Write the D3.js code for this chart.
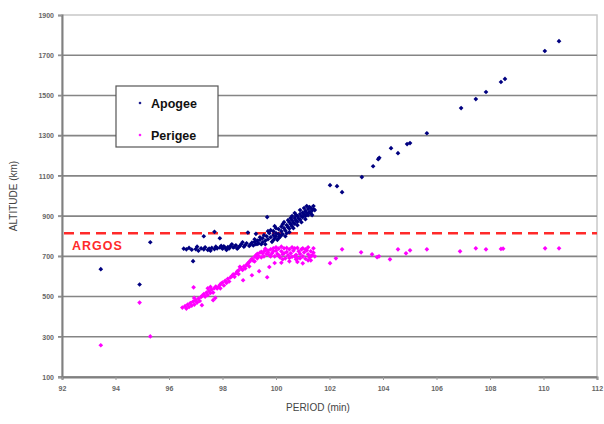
<!DOCTYPE html>
<html>
<head>
<meta charset="utf-8">
<script src="https://cdn.jsdelivr.net/npm/d3@7"></script>
<style>
  body { margin: 0; background: #fff; }
  svg text { font-family: Arial, "Liberation Sans", sans-serif; }
</style>
</head>
<body>
<svg id="chart" width="604" height="424"></svg>
<script>
const svg = d3.select("svg#chart");

// tick values
const xTicks = [92, 94, 96, 98, 100, 102, 104, 106, 108, 110, 112];
const yTicks = [100, 300, 500, 700, 900, 1100, 1300, 1500, 1700, 1900];
const argosAltitude = 815;

// [period (min), altitude (km)]
const apogee = [
  [93.45, 636], [94.9, 560], [95.3, 770], [96.9, 676], [97.3, 800], [97.7, 822], [97.9, 790],
  [96.55, 738], [96.65, 735], [96.75, 742], [96.85, 733], [97.0, 736], [97.1, 728], [97.2, 740],
  [97.3, 735], [97.35, 745], [97.45, 732], [97.5, 738], [97.6, 742], [97.7, 736], [97.75, 748],
  [97.8, 740], [97.9, 744], [98.0, 738], [98.05, 750], [98.1, 742], [98.2, 746], [98.25, 739],
  [98.3, 752], [98.4, 744], [98.45, 748], [98.5, 755], [98.6, 745], [98.65, 752], [98.7, 760],
  [98.8, 748], [98.85, 756], [98.9, 765], [99.0, 752], [99.05, 760], [99.1, 768], [99.15, 754],
  [99.2, 772], [99.25, 760], [99.3, 778], [99.35, 764], [99.4, 782], [99.45, 760], [98.95, 818],
  [99.25, 812], [99.7, 825], [99.67, 895],
  [97.05, 748], [97.55, 728], [98.15, 732], [98.55, 738], [98.75, 770], [98.35, 760], [97.95, 752],
  [99.2, 785], [99.4, 795], [99.3, 762],
  [99.5, 790], [99.5, 770], [99.55, 805], [99.6, 778], [99.65, 800], [99.7, 785], [99.75, 815],
  [99.8, 795], [99.85, 772], [99.9, 825], [99.9, 805], [99.95, 790], [100.0, 815], [100.0, 800],
  [100.05, 782], [100.1, 835], [100.1, 810], [100.15, 798], [100.2, 848], [100.2, 825],
  [100.25, 810], [100.3, 840], [100.35, 828], [100.4, 855], [100.4, 815], [100.45, 845],
  [100.5, 870], [100.5, 838], [100.55, 860], [100.6, 880], [100.6, 850], [100.65, 868],
  [100.7, 890], [100.7, 862], [100.75, 878], [100.8, 900], [100.8, 872], [100.85, 888],
  [100.9, 910], [100.9, 882], [100.95, 898], [101.0, 918], [101.0, 895], [101.05, 908],
  [101.1, 925], [101.1, 900], [101.15, 915], [101.2, 935], [101.25, 920], [101.3, 940],
  [101.35, 928], [101.4, 935], [101.45, 930],
  [99.6, 760], [99.8, 830], [99.9, 780], [100.0, 840], [100.1, 790], [100.2, 805], [100.3, 870],
  [100.35, 800], [100.45, 880], [100.5, 820], [100.6, 900], [100.65, 840], [100.75, 905],
  [100.8, 855], [100.9, 930], [100.95, 870], [101.05, 940], [101.1, 885], [101.2, 905],
  [101.25, 945], [101.3, 915], [101.4, 950], [101.35, 905], [101.15, 950], [100.7, 915],
  [100.55, 890], [100.25, 860], [99.95, 850],
  [102.02, 1054], [102.28, 1049], [102.47, 1019], [103.21, 1094], [103.63, 1148], [103.82, 1183],
  [103.86, 1190], [104.3, 1238], [104.56, 1213], [104.9, 1258], [105.01, 1263], [105.64, 1312],
  [106.92, 1437], [107.47, 1482], [107.85, 1517], [108.41, 1567], [108.56, 1582], [110.05, 1721],
  [110.58, 1770]
];

const perigee = [
  [93.45, 258], [94.9, 470], [95.3, 302],
  [96.5, 445], [96.6, 452], [96.65, 440], [96.7, 460], [96.8, 468], [96.85, 455], [96.9, 475],
  [96.92, 546], [96.94, 493], [97.0, 482], [97.05, 470], [97.1, 490], [97.2, 498], [97.23, 457],
  [97.25, 505], [97.3, 512], [97.35, 500], [97.4, 520], [97.45, 541], [97.5, 528], [97.55, 518],
  [97.55, 548], [97.6, 535], [97.65, 482], [97.7, 542], [97.73, 493], [97.75, 550], [97.8, 540],
  [97.9, 558], [97.92, 541], [97.95, 565], [98.0, 570], [98.1, 578], [98.15, 568], [98.2, 588],
  [98.3, 595], [98.35, 602], [98.4, 610], [98.5, 615], [98.55, 625], [98.6, 630], [98.65, 648],
  [98.7, 640], [98.75, 632], [98.77, 581], [98.8, 650], [98.9, 658], [98.95, 665], [99.0, 672],
  [99.05, 680], [99.1, 688], [99.1, 606], [99.15, 678], [99.2, 698], [99.25, 705], [99.3, 712],
  [99.35, 700], [99.37, 626], [99.4, 718], [99.45, 722], [99.5, 715], [99.55, 725], [99.6, 730],
  [99.65, 712], [99.67, 596], [99.7, 728], [99.75, 647], [99.95, 667],
  [99.6, 738], [99.7, 720], [99.75, 705], [99.8, 735], [99.85, 715], [99.9, 740], [99.95, 700],
  [100.0, 728], [100.05, 712], [100.1, 738], [100.15, 695], [100.2, 725], [100.25, 710],
  [100.3, 740], [100.35, 690], [100.4, 722], [100.45, 705], [100.5, 735], [100.55, 715],
  [100.6, 698], [100.65, 728], [100.7, 740], [100.75, 708], [100.8, 690], [100.85, 725],
  [100.9, 712], [100.95, 735], [101.0, 700], [101.05, 720], [101.1, 688], [101.15, 730],
  [101.2, 710], [101.25, 695], [101.3, 725], [101.35, 705], [101.4, 718], [101.45, 700],
  [100.2, 668], [100.5, 675], [100.8, 672], [101.0, 665], [101.3, 680],
  [99.8, 700], [99.9, 725], [100.0, 745], [100.1, 705], [100.2, 748], [100.3, 715], [100.4, 742],
  [100.5, 692], [100.6, 745], [100.7, 700], [100.8, 742], [100.9, 690], [101.0, 740], [101.1, 735],
  [101.2, 745], [101.3, 700], [101.4, 740], [100.25, 685], [100.75, 685], [101.2, 680],
  [99.55, 700], [99.45, 695], [99.3, 690], [99.2, 675], [99.0, 650], [98.85, 640], [98.6, 612],
  [98.45, 598], [98.25, 575], [98.05, 555], [97.85, 548], [97.65, 520], [97.45, 508],
  [97.15, 478], [96.95, 460], [96.75, 448],
  [102.02, 666], [102.24, 690], [102.47, 735], [103.18, 720], [103.59, 710], [103.78, 696],
  [103.85, 700], [104.26, 685], [104.56, 735], [104.86, 715], [105.01, 730], [105.64, 735],
  [106.88, 725], [107.47, 740], [107.85, 735], [108.41, 737], [108.49, 738], [110.06, 740],
  [110.58, 740]
];

const legendItems = [
  { name: "Apogee", color: "#000080" },
  { name: "Perigee", color: "#ff00ff" }
];

const plot = { left: 62, right: 597, top: 15, bottom: 377 };

const x = d3.scaleLinear().domain([92, 112]).range([plot.left, plot.right]);
const y = d3.scaleLinear().domain([100, 1900]).range([plot.bottom, plot.top]);

// plot border
svg.append("rect")
    .attr("x", plot.left)
    .attr("y", plot.top)
    .attr("width", plot.right - plot.left)
    .attr("height", plot.bottom - plot.top)
    .attr("fill", "#fff")
    .attr("stroke", "#c8c8c8")
    .attr("stroke-width", 1.5);

// horizontal grid lines
svg.append("g")
    .attr("class", "grid")
  .selectAll("line")
  .data(yTicks.filter(d => d < 1900))
  .enter().append("line")
    .attr("x1", plot.left - 4)
    .attr("x2", plot.right)
    .attr("y1", d => y(d))
    .attr("y2", d => y(d))
    .attr("stroke", "#858585")
    .attr("stroke-width", 1.6);

// y axis
const yAxis = svg.append("g")
    .attr("transform", "translate(" + plot.left + ",0)")
    .call(d3.axisLeft(y).tickValues(yTicks).tickSize(4).tickPadding(4).tickFormat(d3.format("d")));
yAxis.select(".domain").attr("stroke", "#808080").attr("stroke-width", 2);
yAxis.selectAll(".tick line").attr("stroke", "#999");
yAxis.selectAll("text")
    .attr("font-size", 7)
    .attr("font-weight", "bold")
    .attr("fill", "#666");

// x axis
const xAxis = svg.append("g")
    .attr("transform", "translate(0," + plot.bottom + ")")
    .call(d3.axisBottom(x).tickValues(xTicks).tickSize(3).tickPadding(6).tickFormat(d3.format("d")));
xAxis.select(".domain").attr("stroke", "#808080").attr("stroke-width", 2);
xAxis.selectAll(".tick line").attr("stroke", "#999");
xAxis.selectAll("text")
    .attr("font-size", 7)
    .attr("font-weight", "bold")
    .attr("fill", "#666");

// ARGOS reference
svg.append("line")
    .attr("x1", plot.left + 2)
    .attr("x2", plot.right)
    .attr("y1", y(argosAltitude))
    .attr("y2", y(argosAltitude))
    .attr("stroke", "#ff2a2a")
    .attr("stroke-width", 2.6)
    .attr("stroke-dasharray", "10,6");

svg.append("text")
    .attr("x", 72)
    .attr("y", y(argosAltitude) + 17)
    .attr("fill", "#ff2a2a")
    .attr("font-size", 12.5)
    .attr("font-weight", "bold")
    .attr("letter-spacing", 1)
    .text("ARGOS");

// points
const marker = d3.symbol().type(d3.symbolSquare).size(11);

function drawSeries(data, color) {
  svg.append("g")
    .selectAll("path")
    .data(data)
    .enter().append("path")
      .attr("d", marker)
      .attr("transform", d => "translate(" + x(d[0]) + "," + y(d[1]) + ") rotate(45)")
      .attr("fill", color);
}
drawSeries(apogee, legendItems[0].color);
drawSeries(perigee, legendItems[1].color);

// legend
const legend = svg.append("g").attr("transform", "translate(116,86)");
legend.append("rect")
    .attr("width", 102)
    .attr("height", 61)
    .attr("fill", "#fff")
    .attr("stroke", "#555")
    .attr("stroke-width", 1.2);
const item = legend.selectAll(".item")
    .data(legendItems)
    .enter().append("g")
      .attr("class", "item")
      .attr("transform", (d, i) => "translate(0," + (17 + i * 32) + ")");
item.append("path")
    .attr("d", d3.symbol().type(d3.symbolSquare).size(5))
    .attr("transform", "translate(24,0) rotate(45)")
    .attr("fill", d => d.color);
item.append("text")
    .attr("x", 35)
    .attr("y", 4.5)
    .attr("font-size", 12.5)
    .attr("font-weight", "bold")
    .attr("fill", "#111")
    .text(d => d.name);

// axis titles
svg.append("text")
    .attr("transform", "translate(17,196) rotate(-90)")
    .attr("text-anchor", "middle")
    .attr("font-size", 10)
    .attr("fill", "#444")
    .text("ALTITUDE (km)");

svg.append("text")
    .attr("x", 318)
    .attr("y", 411)
    .attr("text-anchor", "middle")
    .attr("font-size", 10)
    .attr("fill", "#444")
    .text("PERIOD (min)");
</script>
</body>
</html>
